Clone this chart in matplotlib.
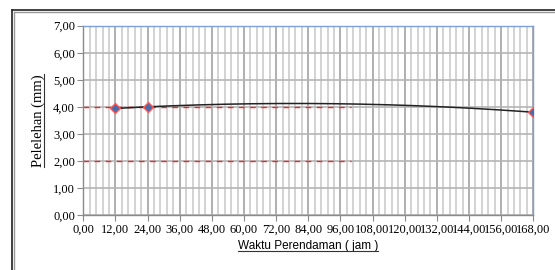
import numpy as np
import matplotlib
matplotlib.use("Agg")
import matplotlib.pyplot as plt
from matplotlib.lines import Line2D
from matplotlib.ticker import FuncFormatter

# data
hours = [12, 24, 168]
melt = [3.94, 4.00, 3.80]
ref_levels = [4.0, 2.0]
ref_x_end = 100
x_ticks = [0, 12, 24, 36, 48, 60, 72, 84, 96, 108, 120, 132, 144, 156, 168]
y_ticks = [0, 1, 2, 3, 4, 5, 6, 7]

fig = plt.figure(figsize=(5.55, 2.70), dpi=100)
ax = fig.add_axes([83.3/555, 55/270, 450/555, 189.3/270])

# grid
for xv in np.arange(0, 168.01, 2.4):
    major = abs(xv/12 - round(xv/12)) < 1e-6
    ax.axvline(xv, color='#9a9a9a' if major else '#d0d0d0',
               lw=1.1 if major else 1.3, zorder=0)
for yv in y_ticks:
    ax.axhline(yv, color='#b5b5b5', lw=1.2, zorder=0)

# reference dashed lines
for lv in ref_levels:
    ax.plot([0, ref_x_end], [lv, lv], color='#ff2020', lw=1.0,
            linestyle=(0, (4, 4)), zorder=2)

# polynomial trendline
coef = np.polyfit(hours, melt, 2)
xs = np.linspace(min(hours), max(hours), 200)
ax.plot(xs, np.polyval(coef, xs), color='#222222', lw=1.1, zorder=3)

# markers
ax.plot(hours, melt, linestyle='none', marker='D', markersize=5,
        markerfacecolor='#4a6aa8', markeredgecolor='#ff5a5a',
        markeredgewidth=1.0, zorder=4)

ax.set_xlim(0, 168)
ax.set_ylim(0, 7)
ax.set_xticks(x_ticks)
ax.set_yticks(y_ticks)
fmt = FuncFormatter(lambda v, p: f"{v:.2f}".replace('.', ','))
ax.xaxis.set_major_formatter(fmt)
ax.yaxis.set_major_formatter(fmt)
ax.tick_params(axis='both', direction='out', length=4, color='#8a8a8a',
               labelsize=9, pad=2)
for lab in ax.get_xticklabels() + ax.get_yticklabels():
    lab.set_fontfamily('Liberation Serif')

for s in ['left', 'bottom']:
    ax.spines[s].set_color('#8a8a8a')
    ax.spines[s].set_linewidth(1.0)
for s in ['top', 'right']:
    ax.spines[s].set_color('#7f9fd8')
    ax.spines[s].set_linewidth(1.0)

ax.set_ylabel('Pelelehan (mm)', fontfamily='Liberation Serif', fontsize=10.5,
              labelpad=6)
ax.set_xlabel('Waktu Perendaman ( jam )', fontfamily='Liberation Sans',
              fontsize=8.5, labelpad=3)

# underline labels
fig.canvas.draw()
r = fig.canvas.get_renderer()
bb = ax.xaxis.label.get_window_extent(r)
fig.add_artist(Line2D([bb.x0/555, bb.x1/555], [(bb.y0+1)/270, (bb.y0+1)/270],
                      color='#333333', lw=0.8))
bb = ax.yaxis.label.get_window_extent(r)
fig.add_artist(Line2D([(bb.x1-1)/555, (bb.x1-1)/555], [bb.y0/270, bb.y1/270],
                      color='#333333', lw=0.8))

# chart frame (double line)
fig.add_artist(Line2D([11.5/555, 11.5/555], [0, 1-9.5/270], color='#222222', lw=1.2))
fig.add_artist(Line2D([11.5/555, 1], [1-9.5/270, 1-9.5/270], color='#222222', lw=1.2))
fig.add_artist(Line2D([14/555, 14/555], [0, 1-12/270], color='#999999', lw=1.0))
fig.add_artist(Line2D([14/555, 1], [1-12/270, 1-12/270], color='#999999', lw=1.0))

fig.savefig('out.png', dpi=100)
